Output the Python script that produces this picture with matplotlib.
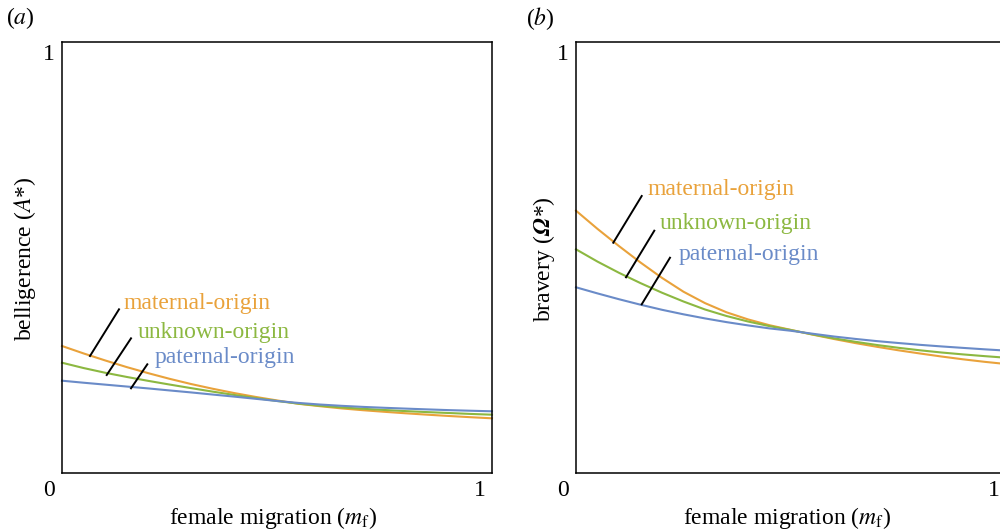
import matplotlib
matplotlib.use("Agg")
import matplotlib.pyplot as plt

plt.rcParams['font.family'] = ['Liberation Serif', 'DejaVu Serif']
plt.rcParams['mathtext.fontset'] = 'stix'

# ---- data ----
m_f = [0.00, 0.05, 0.10, 0.15, 0.20, 0.25, 0.30, 0.35, 0.40, 0.45, 0.50,
       0.55, 0.60, 0.65, 0.70, 0.75, 0.80, 0.85, 0.90, 0.95, 1.00]

bell_maternal = [0.2947, 0.2775, 0.2613, 0.2459, 0.2318, 0.2186, 0.2065, 0.1956, 0.1856, 0.1766, 0.1684,
                 0.1606, 0.1550, 0.1499, 0.1457, 0.1420, 0.1385, 0.1353, 0.1323, 0.1295, 0.1269]
bell_unknown  = [0.2559, 0.2436, 0.2327, 0.2230, 0.2139, 0.2053, 0.1970, 0.1889, 0.1812, 0.1740, 0.1671,
                 0.1610, 0.1561, 0.1522, 0.1490, 0.1462, 0.1436, 0.1413, 0.1392, 0.1371, 0.1353]
bell_paternal = [0.2142, 0.2095, 0.2051, 0.2007, 0.1963, 0.1916, 0.1870, 0.1821, 0.1773, 0.1722, 0.1671,
                 0.1626, 0.1589, 0.1559, 0.1534, 0.1513, 0.1494, 0.1476, 0.1459, 0.1445, 0.1432]

brav_maternal = [0.6086, 0.5664, 0.5265, 0.4884, 0.4527, 0.4206, 0.3942, 0.3729, 0.3564, 0.3429, 0.3320,
                 0.3211, 0.3109, 0.3014, 0.2928, 0.2847, 0.2773, 0.2703, 0.2638, 0.2580, 0.2529]
brav_unknown  = [0.5190, 0.4905, 0.4645, 0.4406, 0.4183, 0.3979, 0.3794, 0.3643, 0.3515, 0.3408, 0.3316,
                 0.3216, 0.3125, 0.3044, 0.2970, 0.2905, 0.2847, 0.2796, 0.2752, 0.2712, 0.2675]
brav_paternal = [0.4309, 0.4167, 0.4032, 0.3905, 0.3787, 0.3682, 0.3587, 0.3501, 0.3425, 0.3355, 0.3300,
                 0.3232, 0.3167, 0.3111, 0.3060, 0.3016, 0.2974, 0.2937, 0.2903, 0.2870, 0.2840]

series_names = ['maternal-origin', 'unknown-origin', 'paternal-origin']
x_tick_labels = ['0', '1']
y_tick_label = '1'

colors = ['#e9a23b', '#8cb841', '#6a8bc8']
FS = 17

fig = plt.figure(figsize=(10, 5.31), dpi=100)
axL = fig.add_axes([0.062, 0.1092, 0.430, 0.8117])
axR = fig.add_axes([0.576, 0.1092, 0.430, 0.8117])

def style(ax, ylabel, ylab_x):
    ax.set_xlim(0, 1)
    ax.set_ylim(0, 1)
    ax.set_xticks([])
    ax.set_yticks([])
    for s in ax.spines.values():
        s.set_linewidth(1.1)
        s.set_color('black')
    ax.text(-0.030, -0.040, x_tick_labels[0], transform=ax.transAxes,
            ha='center', va='center', fontsize=FS)
    ax.text(0.972, -0.040, x_tick_labels[1], transform=ax.transAxes,
            ha='center', va='center', fontsize=FS)
    ax.text(-0.030, 0.970, y_tick_label, transform=ax.transAxes,
            ha='center', va='center', fontsize=FS)
    ax.text(0.49, -0.104, r'female migration ($m_\mathrm{f}$)', transform=ax.transAxes,
            ha='center', va='center', fontsize=FS)
    ax.text(ylab_x, 0.497, ylabel, transform=ax.transAxes, rotation=90,
            ha='center', va='center', fontsize=FS)

style(axL, r'belligerence ($A$*)', -0.086)
style(axR, r'bravery ($\mathbfit{\Omega}$*)', -0.0744)

for ax, ys in ((axL, (bell_maternal, bell_unknown, bell_paternal)),
               (axR, (brav_maternal, brav_unknown, brav_paternal))):
    for y, c in zip(ys, colors):
        ax.plot(m_f, y, color=c, lw=1.5, solid_joinstyle='round', clip_on=False)

# annotation leader lines and labels
left_lines = [((0.0651, 0.2715), (0.1326, 0.3798)),
              ((0.1040, 0.2274), (0.1605, 0.3125)),
              ((0.1605, 0.1965), (0.1984, 0.2522))]
left_text = [(0.1426, 0.394), (0.1760, 0.327), (0.2163, 0.268)]
right_lines = [((0.0867, 0.5343), (0.1528, 0.6427)),
               ((0.1163, 0.4541), (0.1821, 0.5622)),
               ((0.1528, 0.3914), (0.2186, 0.4995))]
right_text = [(0.1658, 0.657), (0.1953, 0.580), (0.2379, 0.507)]

for ax, lines, texts in ((axL, left_lines, left_text), (axR, right_lines, right_text)):
    for (p0, p1), (tx, ty), name, c in zip(lines, texts, series_names, colors):
        ax.plot([p0[0], p1[0]], [p0[1], p1[1]], color='black', lw=1.4)
        ax.text(tx, ty, name, color=c, fontsize=FS, ha='left', va='center')

fig.text(0.020, 0.966, r'($a$)', fontsize=FS, ha='center', va='center')
fig.text(0.540, 0.966, r'($b$)', fontsize=FS, ha='center', va='center')

fig.savefig('out.png', dpi=100)
